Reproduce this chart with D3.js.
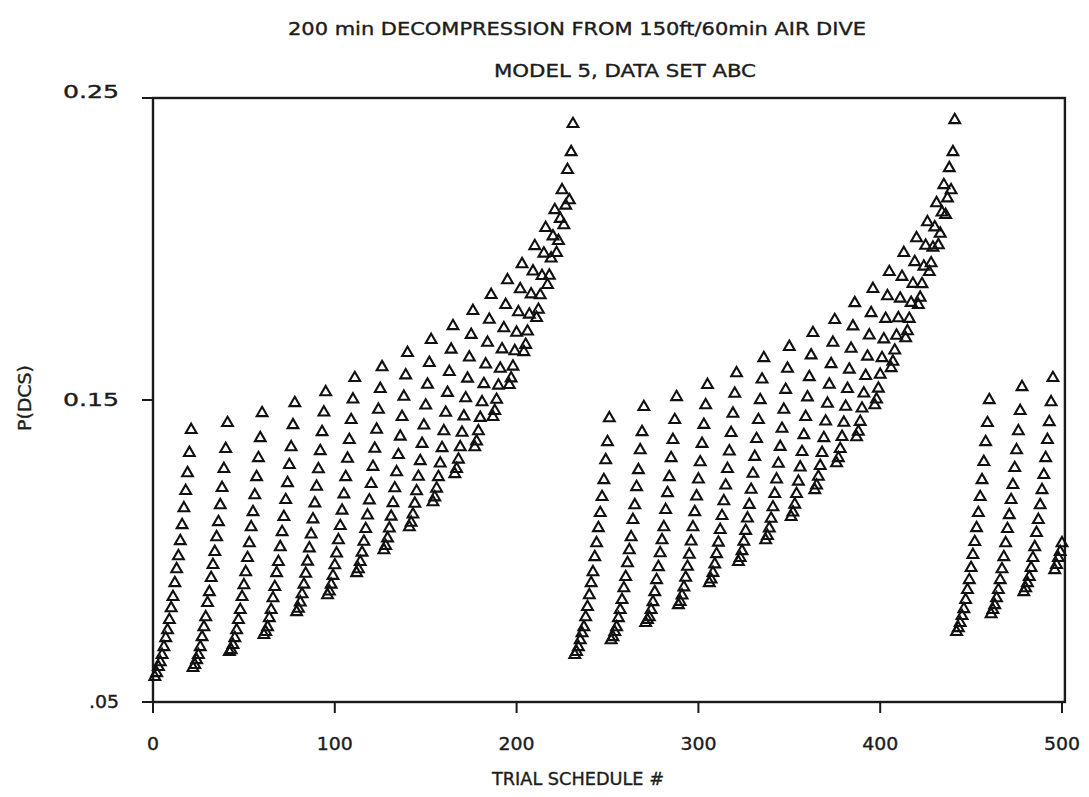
<!DOCTYPE html>
<html>
<head>
<meta charset="utf-8">
<script src="https://cdn.jsdelivr.net/npm/d3@7"></script>
<style>
  body { margin: 0; background: #fff; }
  text {
    font-family: "DejaVu Sans Condensed", "Liberation Sans Narrow", "DejaVu Sans", sans-serif;
    fill: #1c1c1c;
    stroke: #1c1c1c;
    stroke-width: 0.35;
  }
</style>
</head>
<body>
<div id="chart"></div>
<script>
// chart text
const titleLines = ['200 min DECOMPRESSION FROM 150ft/60min AIR DIVE', 'MODEL 5, DATA SET  ABC'];
const xLabelText = 'TRIAL SCHEDULE #';
const yLabelText = 'P(DCS)';
const xTicks = [0, 100, 200, 300, 400, 500];
const yTicks = [0.05, 0.15, 0.25];
const yTickLabels = ['.05', '0.15', '0.25'];

// first trial schedule # of each block; schedules run on by one inside a block
const firstSchedule = [1, 232, 442];

// P(DCS), one inner array per rising column
const block1 = [
  [.0583,.0596,.0616,.0632,.0656,.0682,.0712,.0738,.0772,.0811,.0848,.0894,.0940,.0983,.1033,.1086,.1142,.1199,.1258,.1325,.1401],
  [.0613,.0623,.0639,.0656,.0682,.0715,.0748,.0781,.0828,.0864,.0911,.0954,.0997,.1046,.1096,.1152,.1209,.1272,.1338,.1424],
  [.0666,.0672,.0689,.0712,.0738,.0772,.0805,.0848,.0887,.0930,.0977,.1026,.1079,.1129,.1185,.1245,.1308,.1374,.1457],
  [.0722,.0732,.0748,.0778,.0805,.0844,.0881,.0927,.0964,.1013,.1063,.1113,.1169,.1225,.1285,.1344,.1417,.1490],
  [.0798,.0809,.0830,.0857,.0889,.0925,.0965,.1009,.1055,.1105,.1158,.1213,.1271,.1331,.1394,.1459,.1526],
  [.0854,.0866,.0889,.0918,.0953,.0992,.1036,.1083,.1134,.1188,.1245,.1306,.1368,.1434,.1502,.1573],
  [.0927,.0940,.0964,.0995,.1031,.1073,.1118,.1168,.1222,.1279,.1339,.1402,.1468,.1537,.1609],
  [.1003,.1017,.1042,.1075,.1114,.1159,.1208,.1261,.1318,.1379,.1444,.1511,.1582,.1656],
  [.1079,.1094,.1121,.1157,.1198,.1246,.1298,.1355,.1416,.1482,.1551,.1623,.1699],
  [.1162,.1178,.1207,.1245,.1290,.1341,.1397,.1458,.1524,.1593,.1667,.1745],
  [.1255,.1272,.1303,.1344,.1392,.1446,.1506,.1571,.1641,.1716,.1795],
  [.1344,.1363,.1397,.1441,.1493,.1553,.1618,.1690,.1766,.1848],
  [.1444,.1464,.1501,.1548,.1604,.1668,.1738,.1815,.1897],
  [.1550,.1572,.1611,.1662,.1723,.1791,.1867,.1950],
  [.1659,.1683,.1727,.1783,.1850,.1926,.2010],
  [.1772,.1799,.1847,.1911,.1985,.2070],
  [.1881,.1912,.1969,.2042,.2129],
  [.1987,.2027,.2100,.2195],
  [.2079,.2144,.2262],
  [.2162,.2321],
  [.2414]
];

const block2 = [
  [.0656,.0666,.0682,.0705,.0728,.0748,.0781,.0815,.0854,.0894,.0930,.0980,.1026,.1076,.1126,.1179,.1235,.1301,.1361,.1440],
  [.0705,.0715,.0732,.0748,.0778,.0805,.0838,.0877,.0914,.0960,.1003,.1046,.1103,.1152,.1212,.1268,.1334,.1394,.1477],
  [.0762,.0772,.0781,.0805,.0831,.0864,.0904,.0947,.0993,.1036,.1079,.1136,.1192,.1245,.1308,.1368,.1434,.1510],
  [.0821,.0832,.0853,.0880,.0912,.0948,.0988,.1032,.1079,.1129,.1181,.1237,.1294,.1355,.1418,.1483,.1550],
  [.0894,.0906,.0928,.0956,.0990,.1028,.1070,.1116,.1165,.1217,.1272,.1330,.1391,.1455,.1521,.1589],
  [.0964,.0977,.1000,.1031,.1067,.1108,.1153,.1203,.1256,.1312,.1371,.1434,.1500,.1568,.1639],
  [.1036,.1050,.1075,.1107,.1145,.1189,.1237,.1289,.1345,.1405,.1468,.1534,.1604,.1676],
  [.1113,.1128,.1154,.1189,.1230,.1277,.1328,.1384,.1444,.1509,.1576,.1648,.1722],
  [.1202,.1217,.1246,.1282,.1325,.1374,.1429,.1488,.1551,.1619,.1690,.1765],
  [.1291,.1308,.1338,.1378,.1425,.1478,.1537,.1601,.1670,.1744,.1821],
  [.1377,.1395,.1428,.1472,.1522,.1580,.1644,.1714,.1788,.1868],
  [.1483,.1502,.1538,.1584,.1639,.1701,.1769,.1844,.1924],
  [.1606,.1627,.1664,.1713,.1771,.1836,.1908,.1987],
  [.1705,.1728,.1769,.1822,.1885,.1957,.2036],
  [.1815,.1839,.1884,.1942,.2011,.2089],
  [.1924,.1953,.2005,.2072,.2152],
  [.2013,.2051,.2121,.2212],
  [.2113,.2168,.2268],
  [.2195,.2321],
  [.2427]
];

const block3 = [
  [.0732,.0745,.0762,.0785,.0808,.0838,.0871,.0904,.0944,.0987,.1030,.1076,.1126,.1179,.1235,.1295,.1361,.1424,.1500],
  [.0791,.0805,.0821,.0844,.0871,.0904,.0940,.0980,.1026,.1073,.1119,.1169,.1219,.1275,.1334,.1397,.1464,.1543],
  [.0864,.0877,.0894,.0914,.0944,.0977,.1013,.1060,.1103,.1152,.1202,.1252,.1308,.1368,.1427,.1493,.1573],
  [.0937,.0954,.0977,.0997,.1026]
];

const blocks = [block1, block2, block3];

// flatten to one point per trial schedule
let points = [];
blocks.forEach((cols, b) => {
  let n = firstSchedule[b];
  cols.forEach(col => {
    col.forEach(v => {
      if (n <= 500) points.push({ schedule: n, pdcs: v });
      n++;
    });
  });
});

let width = 1089,
  height = 797,
  margin = { top: 98, left: 153, right: 27, bottom: 95 };

let xScale = d3.scaleLinear()
  .domain([0, 500])
  .range([margin.left, 1062]);

let yScale = d3.scaleLinear()
  .domain([0.05, 0.25])
  .range([height - margin.bottom, margin.top]);

let svg = d3.select('#chart')
  .append('svg')
    .attr('width', width)
    .attr('height', height)
    .attr('viewBox', [0, 0, width, height].join(' '));

svg.append('rect')
  .attr('width', width)
  .attr('height', height)
  .attr('fill', '#fff');

// titles
svg.append('text')
  .attr('x', 577)
  .attr('y', 35)
  .attr('text-anchor', 'middle')
  .attr('font-size', 18)
  .attr('textLength', 578)
  .attr('lengthAdjust', 'spacingAndGlyphs')
  .text(titleLines[0]);

svg.append('text')
  .attr('x', 625)
  .attr('y', 77)
  .attr('text-anchor', 'middle')
  .attr('font-size', 18)
  .attr('textLength', 262)
  .attr('lengthAdjust', 'spacingAndGlyphs')
  .text(titleLines[1]);

// frame
let x0 = xScale(0), x1 = xScale(501.6), yTop = yScale(0.25), yBot = yScale(0.05);
svg.append('rect')
  .attr('x', x0)
  .attr('y', yTop)
  .attr('width', x1 - x0)
  .attr('height', yBot - yTop)
  .attr('fill', 'none')
  .attr('stroke', '#1a1a1a')
  .attr('stroke-width', 2.4);

// x ticks hang below the axis
svg.selectAll('.xtick')
  .data(xTicks)
  .enter().append('line')
    .attr('class', 'xtick')
    .attr('x1', d => xScale(d))
    .attr('x2', d => xScale(d))
    .attr('y1', yBot)
    .attr('y2', yBot + 11)
    .attr('stroke', '#1a1a1a')
    .attr('stroke-width', 2);

svg.selectAll('.xlab')
  .data(xTicks)
  .enter().append('text')
    .attr('class', 'xlab')
    .attr('x', d => xScale(d))
    .attr('y', 750)
    .attr('text-anchor', 'middle')
    .attr('font-size', 18)
    .attr('textLength', d => String(d).length * 12)
    .attr('lengthAdjust', 'spacingAndGlyphs')
    .text(d => d);

// y ticks point left
svg.selectAll('.ytick')
  .data(yTicks)
  .enter().append('line')
    .attr('class', 'ytick')
    .attr('x1', x0 - 11)
    .attr('x2', x0)
    .attr('y1', d => yScale(d))
    .attr('y2', d => yScale(d))
    .attr('stroke', '#1a1a1a')
    .attr('stroke-width', 2);

svg.selectAll('.ylab')
  .data(yTicks)
  .enter().append('text')
    .attr('class', 'ylab')
    .attr('x', 119)
    .attr('y', (d, i) => yScale(d) + (i === 2 ? 0 : 6))
    .attr('text-anchor', 'end')
    .attr('font-size', 18)
    .attr('textLength', (d, i) => yTickLabels[i].length === 4 ? 56 : 30)
    .attr('lengthAdjust', 'spacingAndGlyphs')
    .text((d, i) => yTickLabels[i]);

// axis titles
svg.append('text')
  .attr('x', 578)
  .attr('y', 785)
  .attr('text-anchor', 'middle')
  .attr('font-size', 18)
  .attr('textLength', 172)
  .attr('lengthAdjust', 'spacingAndGlyphs')
  .text(xLabelText);

svg.append('text')
  .attr('transform', 'translate(31,398) rotate(-90)')
  .attr('text-anchor', 'middle')
  .attr('font-size', 18)
  .attr('textLength', 66)
  .attr('lengthAdjust', 'spacingAndGlyphs')
  .text(yLabelText);

// open triangles
let tri = d3.symbol().type(d3.symbolTriangle).size(50);

svg.selectAll('.pt')
  .data(points)
  .enter().append('path')
    .attr('class', 'pt')
    .attr('transform', d => 'translate(' + xScale(d.schedule) + ',' + yScale(d.pdcs) + ')')
    .attr('d', tri)
    .attr('fill', 'none')
    .attr('stroke', '#111')
    .attr('stroke-width', 2.1);
</script>
</body>
</html>
